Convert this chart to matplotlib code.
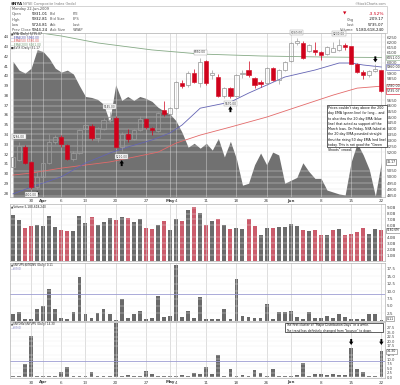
import matplotlib
matplotlib.use("Agg")
import matplotlib.pyplot as plt
import matplotlib.transforms as mtransforms
from matplotlib.patches import Rectangle
from matplotlib.ticker import FixedLocator, NullLocator, NullFormatter, FuncFormatter
import numpy as np
import pandas as pd

# seances du 25 mars au 22 juin 2009 (vendredi saint et memorial day fermes)
dates = pd.bdate_range("2009-03-25", "2009-06-22")
dates = dates[~dates.isin(pd.to_datetime(["2009-04-10", "2009-05-25"]))]

### NYA (Daily)
opens = [5079, 5136, 5244, 5120, 4918, 4998, 5111, 5286, 5328, 5260,
         5144, 5193, 5397, 5423, 5320, 5397, 5475, 5493, 5244, 5354,
         5311, 5388, 5484, 5406, 5380, 5560, 5528, 5580, 5810, 5790,
         5903, 5810, 6018, 5880, 5870, 5690, 5760, 5690, 5890, 5931,
         5860, 5818, 5810, 5950, 5837, 5931, 6018, 6190, 6190, 6110,
         6124, 6100, 6090, 6105, 6120, 6173, 6160, 5990, 5910, 5880,
         5920, 5931.01]
highs = [5177, 5286, 5260, 5128, 5040, 5120, 5355, 5345, 5345, 5269,
         5210, 5400, 5458, 5440, 5415, 5490, 5545, 5510, 5370, 5400,
         5400, 5510, 5490, 5415, 5545, 5640, 5590, 5830, 5840, 5920,
         5940, 6050, 6030, 5930, 5890, 5770, 5770, 5895, 5931, 6018,
         5870, 5840, 5960, 5960, 5945, 6020, 6200, 6240, 6215, 6180,
         6200, 6110, 6160, 6200, 6230, 6190, 6165, 6000, 5930, 5930,
         5985, 5932.81]
lows = [5030, 5130, 5103, 4900, 4900, 4950, 5103, 5270, 5240, 5136,
        5128, 5185, 5380, 5303, 5290, 5388, 5458, 5236, 5210, 5290,
        5300, 5380, 5400, 5345, 5370, 5510, 5519, 5570, 5760, 5770,
        5810, 5770, 5790, 5850, 5680, 5670, 5670, 5680, 5860, 5870,
        5760, 5770, 5790, 5830, 5800, 5920, 6010, 6170, 6040, 6100,
        6080, 6030, 6080, 6100, 6110, 6120, 5985, 5900, 5850, 5870,
        5910, 5724.81]
closes = [5160, 5252, 5111, 4920, 4998, 5111, 5286, 5328, 5269, 5144,
          5193, 5388, 5432, 5320, 5406, 5475, 5501, 5244, 5354, 5311,
          5388, 5484, 5414, 5388, 5540, 5528, 5580, 5818, 5785, 5903,
          5818, 6010, 5810, 5900, 5690, 5760, 5690, 5884, 5900, 5884,
          5790, 5800, 5950, 5837, 5931, 6010, 6190, 6210, 6050, 6173,
          6100, 6080, 6150, 6140, 6173, 6150, 5990, 5910, 5880, 5920,
          5944.24, 5735.07]

# moyennes mobiles (indice de seance, valeur)
ema20_idx = [0, 3, 8, 12, 16, 19, 23, 26, 28, 31, 36, 39, 45, 50, 54, 56, 58, 61]
ema20_val = [4865, 4918, 5000, 5111, 5193, 5244, 5303, 5363, 5432, 5580,
             5635, 5716, 5865, 5931, 5998, 5998, 5979, 5960]
ema50_idx = [0, 3, 8, 12, 16, 20, 24, 27, 31, 36, 42, 47, 53, 57, 61]
ema50_val = [5014, 5030, 5070, 5095, 5120, 5160, 5201, 5277, 5345, 5414,
             5501, 5590, 5698, 5762, 5780]
ema200_idx = [0, 8, 14, 23, 31, 41, 51, 61]
ema200_val = [6333, 6263, 6194, 6125, 6085, 6066, 6056, 6051]

# $VIX en fond (echelle de gauche)
vix = [41.5, 40.6, 40.3, 40.8, 42.7, 42.5, 41.8, 40.8, 40.4, 40.6,
       40.2, 39.0, 37.9, 37.8, 37.6, 37.1, 35.3, 39.1, 37.5, 37.9,
       37.5, 37.9, 37.7, 37.4, 36.8, 36.4, 36.1, 35.4, 34.2, 32.7,
       33.1, 32.6, 33.1, 32.4, 33.6, 31.7, 33.3, 31.5, 28.8, 29.0,
       30.9, 32.1, 30.9, 32.2, 31.9, 29.0, 29.3, 29.6, 31.1, 30.2,
       29.5, 29.5, 28.3, 28.1, 27.9, 27.8, 31.2, 33.1, 31.9, 30.4,
       27.7, 31.17]

# volume en milliards
volumes = [7.73, 6.89, 5.54, 5.88, 6.05, 5.88, 7.56, 5.71, 5.21, 5.04,
           5.04, 7.56, 6.38, 7.39, 6.05, 6.55, 7.22, 6.89, 7.39, 7.22,
           6.55, 7.06, 5.54, 5.38, 6.05, 6.72, 5.21, 7.06, 6.72, 8.57,
           9.07, 8.06, 6.05, 6.72, 7.06, 6.05, 5.38, 5.54, 5.38, 7.06,
           5.88, 4.37, 5.54, 5.54, 5.71, 5.71, 6.22, 5.88, 5.21, 5.04,
           5.21, 4.37, 4.37, 5.21, 5.38, 4.37, 4.54, 4.87, 5.54, 4.54,
           5.38, 5.18061824]

# $NYUPV:$NYDNV
up_down = [2.4, 3.1, 0.7, 0.7, 3.8, 5.1, 10.6, 4.1, 1.0, 0.7,
           3.1, 14.7, 2.4, 1.0, 2.7, 4.1, 2.1, 0.3, 7.2, 1.0,
           2.1, 3.4, 0.7, 1.0, 8.2, 1.4, 1.7, 18.8, 1.4, 3.4,
           1.0, 7.9, 0.7, 0.7, 0.7, 4.1, 0.7, 14.0, 1.7, 1.4,
           1.0, 1.0, 5.8, 0.7, 3.1, 3.1, 3.4, 1.4, 0.7, 3.1,
           1.0, 1.0, 1.7, 1.0, 2.4, 1.4, 0.7, 0.7, 0.7, 2.1,
           2.1, 0.11]
# $NYDNV:$NYUPV
down_up = [0.6, 0.6, 7.2, 22.8, 0.5, 0.5, 0.5, 0.6, 2.8, 5.6,
           0.5, 0.5, 0.6, 2.8, 0.6, 0.6, 0.7, 30.0, 0.5, 1.1,
           0.7, 0.7, 3.3, 1.7, 0.7, 0.7, 0.7, 0.5, 0.9, 0.5,
           2.0, 1.5, 5.6, 1.5, 12.2, 0.5, 4.4, 0.5, 1.1, 0.7,
           3.9, 2.0, 0.7, 4.4, 0.5, 0.5, 0.7, 1.1, 7.8, 0.5,
           1.5, 1.5, 1.1, 1.5, 1.1, 1.1, 16.1, 4.4, 2.8, 0.7,
           0.7, 14.3]
seuil = 9.0

hi_labels = [1, 16, 31, 47, 54]
lo_labels = [3, 18, 36]

note = ("Prices couldn't stay above the 200\n"
        "day EMA (green line) for long... and\n"
        "to also thru the 20 day EMA (blue\n"
        "line) that acted as support off the\n"
        "March lows. On Friday, NYA failed at\n"
        "the 20 day EMA pounded straight\n"
        "thru the rising 50 day EMA (red line)\n"
        "today. This is not good the \"Green\n"
        "Shoots\" crowd.")
note2 = ("The first cluster of \"Major Distribution Days\" in a while.\n"
         "The trend has definitely changed from \"bounce\" to down.")

######################## mise en page ########################
W, H = 400, 385
fig = plt.figure(figsize=(W / 100, H / 100), dpi=100)

def fx(x):
    return x / W

def fy(y):
    return 1 - y / H

def panel(top, bottom):
    return fig.add_axes([fx(10), fy(bottom), (385 - 10) / W, (bottom - top) / H])

GRIS = "#444444"
FS = 3.0
FL = 2.3
RED = "#d0021b"
x = np.arange(len(closes))
o = np.array(opens); h = np.array(highs); l = np.array(lows); c = np.array(closes)
up = c >= o
XMAX = 61.6

# graduations de dates : debut de semaine et debut de mois
tick_idx, tick_lbl = [], []
for k in range(1, len(dates)):
    d, p = dates[k], dates[k - 1]
    if d.month != p.month:
        tick_idx.append(k); tick_lbl.append(d.strftime("%b"))
    elif d.weekday() < p.weekday():
        tick_idx.append(k); tick_lbl.append(str(d.day))

def style(ax):
    for s in ax.spines.values():
        s.set_color("#b4b4b4")
        s.set_linewidth(0.5)
    ax.set_xlim(-0.5, XMAX)
    ax.xaxis.set_major_locator(FixedLocator(tick_idx))
    ax.xaxis.set_minor_locator(NullLocator())
    ax.grid(axis="x", color="#c4c4c4", lw=0.4)
    ax.tick_params(axis="both", which="both", length=0, labelsize=FS,
                   labelcolor=GRIS, pad=1)

def dates_labels(ax, pad):
    ax.set_xticks(tick_idx, tick_lbl)
    ax.tick_params(axis="x", pad=pad)
    for t in ax.get_xticklabels():
        if t.get_text() in ("Apr", "May", "Jun"):
            t.set_fontweight("bold")

def ypx(ax, v):
    return ax.transData.transform((0, v))[1]

def free_ticks(ax, ticks, box_px, gap=4.0):
    # on retire les graduations cachees par les etiquettes de valeur
    return [t for t in ticks if all(abs(ypx(ax, t) - b) > gap for b in box_px)]

def value_box(ax, val, txt, ec, fs=FL):
    tr = mtransforms.blended_transform_factory(ax.transAxes, ax.transData)
    ax.text(1.004, val, txt, transform=tr, ha="left", va="center", fontsize=fs,
            color="#222", clip_on=False, zorder=6,
            bbox=dict(boxstyle="square,pad=0.2", fc="white", ec=ec, lw=0.4))

def arrow(ax, i, val, up_dir, off, length=6):
    s = 0.72
    tail = -(off + length) if up_dir else (off + length)
    ax.annotate("", xy=(i, val), xytext=(0, tail * s), textcoords="offset points",
                annotation_clip=False,
                arrowprops=dict(arrowstyle="simple,head_width=3.2,head_length=2.4,tail_width=1.4",
                                mutation_scale=1, color="k", lw=0,
                                shrinkA=0, shrinkB=off * s))

def legend_lines(y0, lines, step=3.4, fs=2.1):
    for k, (t, cl) in enumerate(lines):
        fig.text(fx(11), fy(y0 + step * k), t, fontsize=fs, color=cl, va="center",
                 parse_math=False)

################### graphique des cours ###################
ax_v = panel(33, 197)
style(ax_v)
ax_v.fill_between(x, vix, 27.0, color="#717171", lw=0, zorder=1)
ax_v.set_ylim(27.59, 44.41)
ax_v.yaxis.set_major_locator(FixedLocator(range(28, 45)))
ax_v.yaxis.set_major_formatter(FuncFormatter(lambda v, p: f"{v:.0f}"))
dates_labels(ax_v, 1.2)

ax_p = ax_v.twinx()
for s in ax_p.spines.values():
    s.set_visible(False)
ax_p.set_yscale("log")
ax_p.set_ylim(4841, 6293)

box_vals = [ema200_val[-1], ema20_val[-1], ema50_val[-1], closes[-1]]
box_px = [ypx(ax_p, v) for v in box_vals] + [ypx(ax_v, vix[-1])]
ax_p.yaxis.set_major_locator(FixedLocator(free_ticks(ax_p, np.arange(4850, 6251, 50), box_px)))
ax_p.yaxis.set_minor_locator(NullLocator())
ax_p.yaxis.set_major_formatter(FuncFormatter(lambda v, p: f"{v:.0f}"))
ax_p.yaxis.set_minor_formatter(NullFormatter())
ax_p.tick_params(axis="y", length=0, labelsize=FS, labelcolor=GRIS, pad=1)
ax_p.grid(axis="y", color="#e6e6e6", lw=0.3)

ax_p.plot(ema200_idx, ema200_val, color="#86aa86", lw=0.6, zorder=2)
ax_p.plot(ema50_idx, ema50_val, color="#e36a6a", lw=0.6, zorder=2)
ax_p.plot(ema20_idx, ema20_val, color="#6464b4", lw=0.6, zorder=2)

# bougies
bas = np.minimum(o, c); haut = np.maximum(o, c)
col = np.where(up, "#9c9c9c", RED)
ax_p.vlines(x, l, bas, colors=col, lw=0.5, zorder=3)
ax_p.vlines(x, haut, h, colors=col, lw=0.5, zorder=3)
ax_p.bar(x[up], (haut - bas)[up], bottom=bas[up], width=0.7,
         facecolor="none", edgecolor="#9c9c9c", lw=0.55, zorder=4)
ax_p.bar(x[~up], (haut - bas)[~up], bottom=bas[~up], width=0.7,
         facecolor=RED, edgecolor=RED, lw=0.4, zorder=4)

lab = dict(ha="center", fontsize=FL - 0.2, color="#333", textcoords="offset points",
           zorder=7, bbox=dict(boxstyle="square,pad=0.2", fc="white", ec="#9a9a9a", lw=0.3))
for i in hi_labels:
    ax_p.annotate(f"{highs[i]:.2f}", xy=(i, highs[i]), xytext=(0, 2.5), va="bottom", **lab)
for i in lo_labels:
    ax_p.annotate(f"{lows[i]:.2f}", xy=(i, lows[i]), xytext=(0, -2.5), va="top", **lab)

arrow(ax_p, 4, lows[4], True, 1.5)
arrow(ax_p, 18, lows[18], True, 9)
arrow(ax_p, 36, lows[36], True, 8)
arrow(ax_p, 60, highs[60], False, 2)

value_box(ax_p, ema200_val[-1], f"{ema200_val[-1]:.2f}", "#86aa86")
value_box(ax_p, ema20_val[-1], f"{ema20_val[-1]:.2f}", "#6464b4")
value_box(ax_p, ema50_val[-1], f"{ema50_val[-1]:.2f}", "#e36a6a")
value_box(ax_p, closes[-1], f"{closes[-1]:.2f}", RED)
value_box(ax_v, vix[-1], f"{vix[-1]:.2f}", "#555")

legend_lines(34.4, [("\u25b2NYA (Daily) " + f"{closes[-1]:.2f}", "#111"),
                    ("\u2014EMA(20) " + f"{ema20_val[-1]:.2f}", "#4c4ca6"),
                    ("\u2014EMA(50) " + f"{ema50_val[-1]:.2f}", "#d84a4a"),
                    ("\u2014EMA(200) " + f"{ema200_val[-1]:.2f}", "#6f966f"),
                    ("\u25a0$VIX (Daily) " + f"{vix[-1]:.2f}", "#333")])

# note
fig.patches.append(Rectangle((fx(327), fy(147)), 60 / W, 42 / H, transform=fig.transFigure,
                             fc="white", ec="#222", lw=0.5, zorder=8))
fig.text(fx(328.5), fy(106), note, fontsize=2.35, color="#111", va="top", ha="left",
         linespacing=1.42, zorder=9)

################### volume ###################
ax_vol = panel(204, 261)
style(ax_vol)
ax_vol.tick_params(axis="x", labelbottom=False)
prev = np.r_[c[0], c[:-1]]
vcol = np.where(c < prev, "#cb5b6b", "#6b6b6b")
ax_vol.bar(x, volumes, width=0.66, color=vcol, lw=0)
ax_vol.set_ylim(0, 9.6)
ax_vol.yaxis.tick_right()
ax_vol.yaxis.set_major_locator(FixedLocator(free_ticks(ax_vol, range(1, 10), [ypx(ax_vol, volumes[-1])])))
ax_vol.yaxis.set_major_formatter(FuncFormatter(lambda v, p: f"{v:.1f}B"))
ax_vol.grid(axis="y", color="#ececec", lw=0.3)
legend_lines(206.5, [("\u25b2Volume " + f"{int(round(volumes[-1] * 1e9)):,}", "#222")])
value_box(ax_vol, volumes[-1], f"{volumes[-1] * 1000:.1f}M", "#777", fs=2.1)

################### $NYUPV:$NYDNV ###################
ax_up = panel(263, 321)
style(ax_up)
ax_up.tick_params(axis="x", labelbottom=False)
ax_up.bar(x, up_down, width=0.62, color="#6a6a6a", lw=0)
ax_up.axhline(seuil, color="#9c9cd2", lw=0.6)
ax_up.set_ylim(-0.1, 19.5)
ax_up.yaxis.tick_right()
ax_up.yaxis.set_major_locator(FixedLocator(np.arange(2.5, 17.6, 2.5)))
ax_up.yaxis.set_major_formatter(FuncFormatter(lambda v, p: f"{v:.1f}"))
ax_up.grid(axis="y", color="#ececec", lw=0.3)
legend_lines(265.2, [("\u25b2$NYUPV:$NYDNV (Daily) " + f"{up_down[-1]:.2f}", "#222"),
                     ("\u2014H(9.0)", "#7c7cc0")], step=3.6, fs=2.0)
value_box(ax_up, up_down[-1] + 0.6, f"{up_down[-1]:.2f}", "#777")

################### $NYDNV:$NYUPV ###################
ax_dn = panel(322, 378)
style(ax_dn)
ax_dn.bar(x, down_up, width=0.62, color="#6a6a6a", lw=0)
ax_dn.axhline(seuil, color="#9c9cd2", lw=0.6)
ax_dn.set_ylim(-0.55, 30.6)
ax_dn.yaxis.tick_right()
ax_dn.yaxis.set_major_locator(FixedLocator(free_ticks(ax_dn, np.arange(0, 27.6, 2.5),
                                                      [ypx(ax_dn, down_up[-1])], gap=3.0)))
ax_dn.yaxis.set_major_formatter(FuncFormatter(lambda v, p: f"{v:.1f}"))
ax_dn.tick_params(axis="y", labelsize=2.7)
ax_dn.grid(axis="y", color="#ececec", lw=0.3)
dates_labels(ax_dn, 1.8)
legend_lines(324.2, [("\u25b2$NYDNV:$NYUPV (Daily) " + f"{down_up[-1]:.2f}", "#222"),
                     ("\u2014H(9.0)", "#7c7cc0")], step=3.6, fs=2.0)
value_box(ax_dn, down_up[-1], f"{down_up[-1]:.2f}", "#777")
arrow(ax_dn, 56, 17.8, False, 0)
arrow(ax_dn, 61, 17.8, False, 0)
fig.patches.append(Rectangle((fx(285), fy(332)), 98 / W, 9.5 / H, transform=fig.transFigure,
                             fc="white", ec="#222", lw=0.5, zorder=8))
fig.text(fx(286.5), fy(323.2), note2, fontsize=2.2, color="#111", va="top", ha="left",
         linespacing=1.45, zorder=9)

################### en-tete ###################
fig.patches.append(Rectangle((fx(10), fy(33)), 377 / W, 27 / H, transform=fig.transFigure,
                             fill=False, ec="#c4c4c4", lw=0.5))
fig.text(fx(11), fy(3.6), "$NYA", fontsize=3.0, weight="bold", color="#222", va="center",
         parse_math=False)
fig.text(fx(23), fy(3.6), "NYSE Composite Index (Indx)", fontsize=2.6, color="#777", va="center")
fig.text(fx(386), fy(3.6), "\u00a9StockCharts.com", fontsize=2.4, color="#777", va="center", ha="right")
fig.text(fx(12), fy(9.3), dates[-1].strftime("%A %d-%b-%Y"), fontsize=2.5, color="#444", va="center")
rows = [("Open", f"{opens[-1]:.2f}", "Bid", "P/E"),
        ("High", f"{highs[-1]:.2f}", "Bid Size", "EPS"),
        ("Low", f"{lows[-1]:.2f}", "Ask", "Last"),
        ("Prev Close", f"{closes[-2]:.2f}", "Ask Size", "VWAP")]
for k, r in enumerate(rows):
    yy = fy(14.3 + 5.2 * k)
    fig.text(fx(12), yy, r[0], fontsize=2.6, color="#555", va="center")
    fig.text(fx(32), yy, r[1], fontsize=2.8, color="#111", va="center")
    fig.text(fx(50), yy, r[2], fontsize=2.6, color="#555", va="center")
    fig.text(fx(72.5), yy, r[3], fontsize=2.6, color="#555", va="center")

chg = closes[-1] - closes[-2]
pct = chg / closes[-2] * 100
fig.text(fx(345), fy(13.6), "\u25bc", fontsize=3.2, color=RED, va="center", ha="center")
fig.text(fx(384), fy(13.6), f"{pct:.2f}%", fontsize=3.2, color=RED, va="center", ha="right")
right = [("Chg", f"{chg:.2f}", 347), ("Last", f"{closes[-1]:.2f}", 347),
         ("Volume", f"{int(round(volumes[-1] * 1e9)):,}", 340)]
for k, (a, b, xx) in enumerate(right):
    yy = fy(19.5 + 5.2 * k)
    fig.text(fx(xx), yy, a, fontsize=2.6, color="#555", va="center")
    fig.text(fx(384), yy, b, fontsize=2.8, color="#111", va="center", ha="right")

fig.savefig("out.png", dpi=100, facecolor="white")
